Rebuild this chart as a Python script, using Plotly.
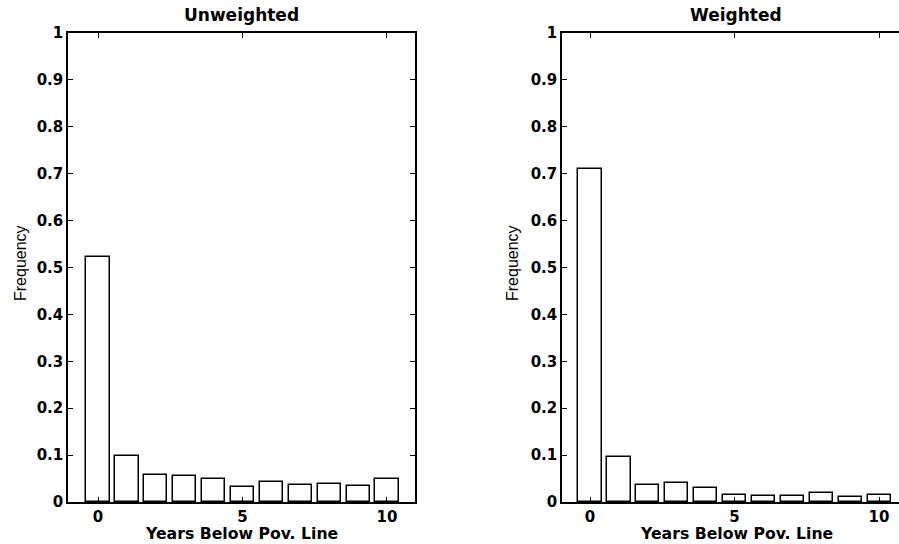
import plotly.graph_objects as go

years = list(range(11))
unweighted = [0.523, 0.098, 0.057, 0.055, 0.050, 0.032, 0.043, 0.037, 0.038, 0.034, 0.048]
weighted = [0.709, 0.096, 0.037, 0.040, 0.029, 0.016, 0.013, 0.013, 0.019, 0.011, 0.014]
titles = ["Unweighted", "Weighted"]
x_title = "Years Below Pov. Line"
y_title = "Frequency"
y_ticks = [round(0.1 * i, 1) for i in range(11)]
y_tick_text = ["0"] + [f"{v:.1f}" for v in y_ticks[1:-1]] + ["1"]
x_ticks = [0, 5, 10]

fig = go.Figure()
FONT = "DejaVu Sans, Liberation Sans, Arial, sans-serif"

for i, vals in enumerate([unweighted, weighted]):
    xa = "x" if i == 0 else "x2"
    ya = "y" if i == 0 else "y2"
    fig.add_trace(go.Bar(x=years, y=vals, width=0.8, xaxis=xa, yaxis=ya,
                         marker=dict(color="white", line=dict(color="black", width=1.5)),
                         showlegend=False))

ydom = [1 - 502 / 544, 1 - 33 / 544]
axis_common = dict(showgrid=False, zeroline=False, showline=True, linecolor="black",
                   linewidth=1.5, ticks="inside", ticklen=5,
                   tickcolor="black", tickwidth=1, automargin=False,
                   tickfont=dict(family=FONT, size=15, color="black", weight="bold"))

fig.update_layout(
    width=899, height=544, margin=dict(l=0, r=0, t=0, b=0, autoexpand=False),
    paper_bgcolor="white", plot_bgcolor="white", bargap=0,
    xaxis=dict(domain=[68 / 899, 415 / 899], range=[-1.04, 10.97], mirror="ticks",
               tickvals=x_ticks, anchor="y", **axis_common),
    yaxis=dict(domain=ydom, range=[0, 1], tickvals=y_ticks, ticktext=y_tick_text, mirror="ticks",
               anchor="x", **axis_common),
    xaxis2=dict(domain=[562 / 899, 1.0], range=[-0.97, 10.69], mirror="ticks",
                tickvals=x_ticks, anchor="y2", **axis_common),
    yaxis2=dict(domain=ydom, range=[0, 1], tickvals=y_ticks, ticktext=y_tick_text, mirror=False,
                anchor="x2", **axis_common),
)

title_font = dict(family=FONT, size=17, color="black", weight="bold")
xt_font = dict(family=FONT, size=15.7, color="black", weight="bold")
for i, (cx, fx) in enumerate([(242, 20), (736, 512)]):
    fig.add_annotation(text=titles[i], x=cx / 899, y=1 - 15 / 544, xref="paper", yref="paper",
                       showarrow=False, font=title_font, xanchor="center", yanchor="middle")
    fig.add_annotation(text=x_title, x=cx / 899, y=1 - 533 / 544,
                       xref="paper", yref="paper", showarrow=False, font=xt_font,
                       xanchor="center", yanchor="middle")
    fig.add_annotation(text=y_title, x=fx / 899, y=1 - 263 / 544, xref="paper", yref="paper",
                       showarrow=False, textangle=-90,
                       font=dict(family="Liberation Sans Narrow, Liberation Sans, Arial", size=16, color="black"),
                       xanchor="center", yanchor="middle")

fig.write_html("out.html")
